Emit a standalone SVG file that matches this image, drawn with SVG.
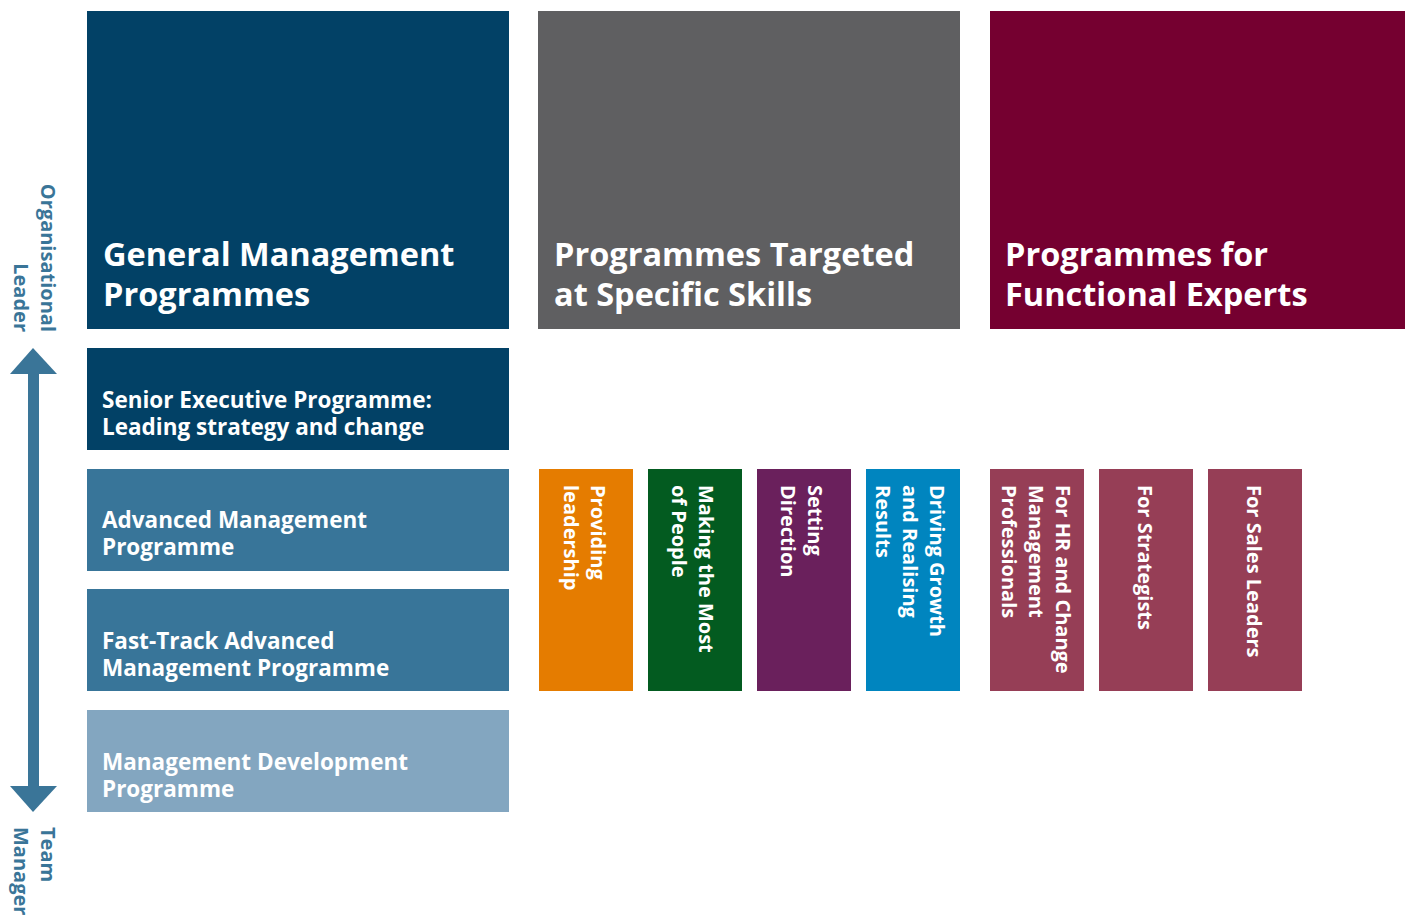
<svg xmlns="http://www.w3.org/2000/svg" width="1405" height="916" viewBox="0 0 1405 916">
<style>
text{font-family:"Open Sans","Liberation Sans",sans-serif;font-weight:700;fill:#fff}
.h{font-size:32.5px}
.p{font-size:22.5px}
.v{font-size:20px}
.side{font-size:20px;fill:#3a7598}
</style>
<rect width="1405" height="916" fill="#fff"/>
<g id="axis">
<rect x="28" y="370" width="11" height="420" fill="#3a7598"/>
<polygon points="33,348 57,374 10,374" fill="#3a7598"/>
<polygon points="10,786 57,786 33,812" fill="#3a7598"/>
<text class="side" text-anchor="end" transform="translate(41,332) rotate(90)">Organisational<tspan x="0" dy="27">Leader</tspan></text>
<text class="side" transform="translate(41,827) rotate(90)">Team<tspan x="0" dy="27">Manager</tspan></text>
</g>
<g id="general">
<rect x="87" y="11" width="422" height="318" fill="#024166"/>
<text class="h" x="103" y="266">General Management<tspan x="103" dy="40">Programmes</tspan></text>
</g>
<g id="targeted">
<rect x="538" y="11" width="422" height="318" fill="#5f5f61"/>
<text class="h" x="554" y="266">Programmes Targeted<tspan x="554" dy="40">at Specific Skills</tspan></text>
</g>
<g id="functional">
<rect x="990" y="11" width="415" height="318" fill="#750030"/>
<text class="h" x="1005" y="266">Programmes for<tspan x="1005" dy="40">Functional Experts</tspan></text>
</g>
<g id="senior">
<rect x="87" y="348" width="422" height="102" fill="#024166"/>
<text class="p" x="102" y="408">Senior Executive Programme:<tspan x="102" dy="27">Leading strategy and change</tspan></text>
</g>
<g id="advanced">
<rect x="87" y="469" width="422" height="102" fill="#387599"/>
<text class="p" x="102" y="528">Advanced Management<tspan x="102" dy="27">Programme</tspan></text>
</g>
<g id="fasttrack">
<rect x="87" y="589" width="422" height="102" fill="#387599"/>
<text class="p" x="102" y="649">Fast-Track Advanced<tspan x="102" dy="27">Management Programme</tspan></text>
</g>
<g id="mdp">
<rect x="87" y="710" width="422" height="102" fill="#83a6c0"/>
<text class="p" x="102" y="770">Management Development<tspan x="102" dy="27">Programme</tspan></text>
</g>
<g id="leadership">
<rect x="539" y="469" width="94" height="222" fill="#e57c00"/>
<text class="v" transform="translate(591,485) rotate(90)">Providing<tspan x="0" dy="27">leadership</tspan></text>
</g>
<g id="people">
<rect x="648" y="469" width="94" height="222" fill="#035b20"/>
<text class="v" transform="translate(699,485) rotate(90)">Making the Most<tspan x="0" dy="27">of People</tspan></text>
</g>
<g id="direction">
<rect x="757" y="469" width="94" height="222" fill="#6a205c"/>
<text class="v" transform="translate(808,485) rotate(90)">Setting<tspan x="0" dy="27">Direction</tspan></text>
</g>
<g id="growth">
<rect x="866" y="469" width="94" height="222" fill="#0085bf"/>
<text class="v" transform="translate(930,485) rotate(90)">Driving Growth<tspan x="0" dy="27">and Realising</tspan><tspan x="0" dy="27">Results</tspan></text>
</g>
<g id="hr">
<rect x="990" y="469" width="94" height="222" fill="#963e56"/>
<text class="v" transform="translate(1056,485) rotate(90)">For HR and Change<tspan x="0" dy="27">Management</tspan><tspan x="0" dy="27">Professionals</tspan></text>
</g>
<g id="strategists">
<rect x="1099" y="469" width="94" height="222" fill="#963e56"/>
<text class="v" transform="translate(1138,485) rotate(90)">For Strategists</text>
</g>
<g id="sales">
<rect x="1208" y="469" width="94" height="222" fill="#963e56"/>
<text class="v" transform="translate(1247,485) rotate(90)">For Sales Leaders</text>
</g>
<g id="connectors"></g>
</svg>
